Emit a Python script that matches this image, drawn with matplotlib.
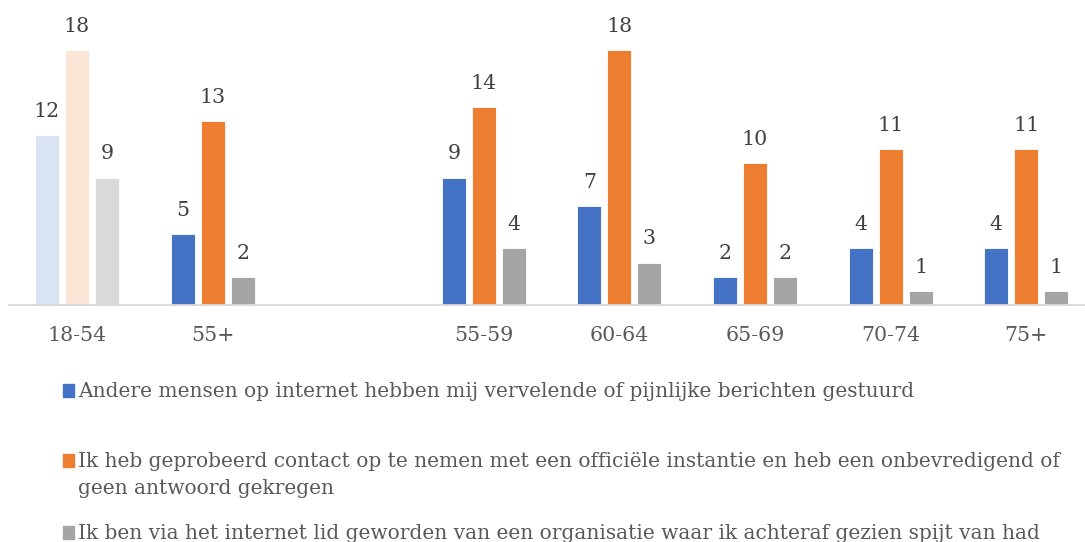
import matplotlib
matplotlib.use("Agg")
import matplotlib.pyplot as plt
from matplotlib.patches import Rectangle
import numpy as np

# Age groups (an empty slot separates the two summary groups from the detail groups)
categories = ["18-54", "55+", "", "55-59", "60-64", "65-69", "70-74", "75+"]

# Share of respondents per statement (None = no bar in that slot)
berichten = [12, 5, None, 9, 7, 2, 4, 4]
instantie = [18, 13, None, 14, 18, 10, 11, 11]
organisatie = [9, 2, None, 4, 3, 2, 1, 1]

# Legend entries; each inner list holds the wrapped lines of one entry
series_labels = [
    ["Andere mensen op internet hebben mij vervelende of pijnlijke berichten gestuurd"],
    ["Ik heb geprobeerd contact op te nemen met een officiële instantie en heb een onbevredigend of",
     "geen antwoord gekregen"],
    ["Ik ben via het internet lid geworden van een organisatie waar ik achteraf gezien spijt van had"],
]
series_colors = ["#4472C4", "#ED7D31", "#A5A5A5"]
faded_colors = ["#DAE3F3", "#FBE5D6", "#D9D9D9"]
faded_group = "18-54"

W, H, DPI = 1085, 542, 100
fig = plt.figure(figsize=(W / DPI, H / DPI), dpi=DPI)
plt.rcParams["font.family"] = ["DejaVu Serif"]

# Axes geometry in pixels
x0, cat_w = 9.2, 135.6
base_y = 305
px_per_unit = 255 / 18
ymax = 20
ax_h = ymax * px_per_unit
ax_w = cat_w * len(categories)
ax = fig.add_axes([x0 / W, 1 - base_y / H, ax_w / W, ax_h / H])
ax.set_xlim(-0.5, len(categories) - 0.5)
ax.set_ylim(0, ymax)

bar_w = 24 / cat_w
step = 30 / cat_w
x = np.arange(len(categories))
all_series = [berichten, instantie, organisatie]

for si, vals in enumerate(all_series):
    offs = (si - 1) * step
    for ci, v in enumerate(vals):
        if v is None:
            continue
        col = faded_colors[si] if categories[ci] == faded_group else series_colors[si]
        ax.bar(x[ci] + offs, v, width=bar_w, color=col,
               edgecolor="white", linewidth=0.6, zorder=2)
        ax.annotate(str(v), (x[ci] + offs, v), xytext=(0, 13),
                    textcoords="offset points", ha="center", va="baseline",
                    fontsize=14.8, color="#404040")

for s in ["top", "right", "left"]:
    ax.spines[s].set_visible(False)
ax.spines["bottom"].set_color("#D9D9D9")
ax.spines["bottom"].set_linewidth(1.3)
ax.set_yticks([])
ax.set_xticks(x)
ax.set_xticklabels(categories, fontsize=14.8, color="#595959")
ax.tick_params(axis="x", length=0, pad=15)

# Legend drawn below the plot, one entry per block of lines
text_x = 78
sq_x, sq = 63, 11
first_baselines = [397, 467, 539]
line_gap = 27
for lines, col, yb in zip(series_labels, series_colors, first_baselines):
    fig.patches.append(Rectangle((sq_x / W, 1 - yb / H), sq / W, 13 / H,
                                 transform=fig.transFigure, color=col))
    for li, line in enumerate(lines):
        fig.text(text_x / W, 1 - (yb + li * line_gap) / H, line,
                 fontsize=14.5, color="#595959", ha="left", va="baseline")

fig.savefig("out.png", dpi=DPI)
